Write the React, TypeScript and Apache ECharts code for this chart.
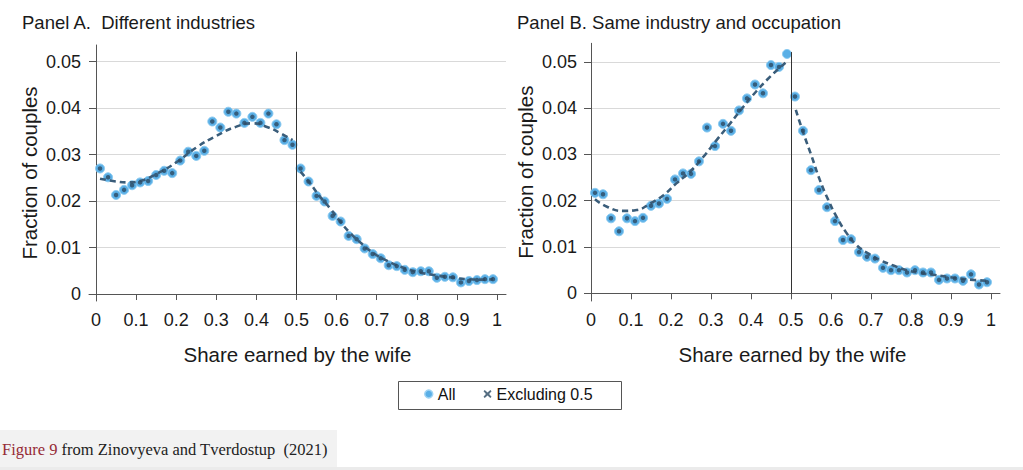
import React, { useEffect, useRef } from "react";
import * as echarts from "echarts";

// Bin centres (share earned by the wife)
const xBins = [
  0.01, 0.03, 0.05, 0.07, 0.09, 0.11, 0.13, 0.15, 0.17, 0.19,
  0.21, 0.23, 0.25, 0.27, 0.29, 0.31, 0.33, 0.35, 0.37, 0.39,
  0.41, 0.43, 0.45, 0.47, 0.49, 0.51, 0.53, 0.55, 0.57, 0.59,
  0.61, 0.63, 0.65, 0.67, 0.69, 0.71, 0.73, 0.75, 0.77, 0.79,
  0.81, 0.83, 0.85, 0.87, 0.89, 0.91, 0.93, 0.95, 0.97, 0.99,
];

const xTicks = [0, 0.1, 0.2, 0.3, 0.4, 0.5, 0.6, 0.7, 0.8, 0.9, 1];
const yTicks = [0, 0.01, 0.02, 0.03, 0.04, 0.05];

// Panel A: different industries
const panelAAll = [
  0.027, 0.0251, 0.0213, 0.0224, 0.0234, 0.024, 0.0243, 0.0256, 0.0265, 0.026,
  0.0287, 0.0306, 0.0297, 0.0308, 0.0371, 0.0358, 0.0392, 0.0388, 0.0368, 0.0381,
  0.0368, 0.0388, 0.0365, 0.0331, 0.0321, 0.027, 0.0242, 0.0211, 0.0199, 0.0168,
  0.0156, 0.0125, 0.0118, 0.0098, 0.0086, 0.0077, 0.0062, 0.006, 0.0052, 0.0047,
  0.0049, 0.0049, 0.0035, 0.0037, 0.0036, 0.0025, 0.0028, 0.003, 0.0032, 0.0032,
];
const panelAExcl = [
  0.027, 0.0251, 0.0213, 0.0224, 0.0234, 0.024, 0.0243, 0.0256, 0.0265, 0.026,
  0.0287, 0.0306, 0.0297, 0.0308, 0.0371, 0.0358, 0.0392, 0.0388, 0.0368, 0.0381,
  0.0368, 0.0388, 0.0365, 0.0331, 0.0321, 0.027, 0.0242, 0.0211, 0.0199, 0.0168,
  0.0156, 0.0125, 0.0118, 0.0098, 0.0086, 0.0077, 0.0062, 0.006, 0.0052, 0.0047,
  0.0049, 0.0049, 0.0035, 0.0037, 0.0036, 0.0025, 0.0028, 0.003, 0.0032, 0.0032,
];

// Panel B: same industry and occupation
const panelBAll = [
  0.0217, 0.0214, 0.0162, 0.0134, 0.0162, 0.0156, 0.0163, 0.0189, 0.0194, 0.0204,
  0.0246, 0.0259, 0.0258, 0.0285, 0.0358, 0.0318, 0.0366, 0.0351, 0.0395, 0.0421,
  0.0451, 0.0432, 0.0493, 0.0489, 0.0517, 0.0425, 0.0351, 0.0266, 0.0223, 0.0186,
  0.0156, 0.0115, 0.0117, 0.0089, 0.0079, 0.0075, 0.0055, 0.005, 0.005, 0.0045,
  0.005, 0.0045, 0.0045, 0.0029, 0.0032, 0.0032, 0.0027, 0.0041, 0.0019, 0.0024,
];
const panelBExcl = [
  0.0217, 0.0214, 0.0162, 0.0134, 0.0162, 0.0156, 0.0163, 0.0189, 0.0194, 0.0204,
  0.0246, 0.0259, 0.0258, 0.0285, 0.0358, 0.0318, 0.0366, 0.0351, 0.0395, 0.0421,
  0.0451, 0.0432, 0.0493, 0.0489, null, 0.0425, 0.0351, 0.0266, 0.0223, 0.0186,
  0.0156, 0.0115, 0.0117, 0.0089, 0.0079, 0.0075, 0.0055, 0.005, 0.005, 0.0045,
  0.005, 0.0045, 0.0045, 0.0029, 0.0032, 0.0032, 0.0027, 0.0041, 0.0019, 0.0024,
];

// Fitted curves
const fitALeft = [
  [0.01, 0.0248], [0.05, 0.0242], [0.08, 0.024], [0.11, 0.0243], [0.15, 0.0258],
  [0.2, 0.0283], [0.25, 0.0315], [0.3, 0.034], [0.35, 0.036], [0.39, 0.0367],
  [0.43, 0.0358], [0.46, 0.0346], [0.49, 0.0331],
];
const fitARight = [
  [0.51, 0.0263], [0.534, 0.0238], [0.559, 0.0209], [0.584, 0.0184], [0.609, 0.0156],
  [0.634, 0.0131], [0.663, 0.0108], [0.692, 0.0088], [0.725, 0.0072], [0.759, 0.0059],
  [0.8, 0.0048], [0.842, 0.0041], [0.883, 0.0036], [0.925, 0.0032], [0.966, 0.0031],
  [0.99, 0.0032],
];
const fitBLeft = [
  [0.01, 0.0203], [0.04, 0.0187], [0.08, 0.0178], [0.114, 0.018], [0.148, 0.0194],
  [0.181, 0.0212], [0.214, 0.0238], [0.248, 0.0263], [0.281, 0.0295], [0.314, 0.0331],
  [0.348, 0.0367], [0.381, 0.0403], [0.414, 0.0437], [0.448, 0.0468], [0.49, 0.0501],
];
const fitBRight = [
  [0.512, 0.0396], [0.531, 0.0346], [0.552, 0.0295], [0.572, 0.0245], [0.593, 0.0202],
  [0.614, 0.0165], [0.639, 0.013], [0.664, 0.0104], [0.693, 0.0086], [0.722, 0.0072],
  [0.756, 0.006], [0.789, 0.005], [0.822, 0.0044], [0.856, 0.004], [0.889, 0.0036],
  [0.922, 0.0032], [0.956, 0.0029], [0.99, 0.0027],
];

const FONT = "'Liberation Sans', Arial, Helvetica, sans-serif";
const SERIF = "'Liberation Serif', 'DejaVu Serif', serif";
const LIGHT = "#5aafe6";
const DARK = "#2c4a63";
const LINE = "#3a5d7a";
const TXT = "#1a1a1a";

function pairs(vals: (number | null)[]) {
  const out: number[][] = [];
  xBins.forEach((x, i) => {
    const v = vals[i];
    if (v !== null && v !== undefined) out.push([x, v]);
  });
  return out;
}

function makeX(idx: number, min: number, max: number) {
  return {
    type: "value",
    gridIndex: idx,
    min,
    max,
    axisLine: { show: true, lineStyle: { color: "#555", width: 1 } },
    axisTick: { show: true, length: 6, customValues: xTicks, lineStyle: { color: "#555" } },
    axisLabel: { customValues: xTicks, fontSize: 18, color: TXT, fontFamily: FONT, margin: 10 },
    splitLine: { show: false },
    name: "Share earned by the wife",
    nameLocation: "middle",
    nameGap: 43,
    nameTextStyle: { fontSize: 20.5, color: TXT, fontFamily: FONT },
  };
}

function makeY(idx: number, min: number, max: number) {
  return {
    type: "value",
    gridIndex: idx,
    min,
    max,
    axisLine: { show: true, lineStyle: { color: "#555", width: 1 } },
    axisTick: { show: true, length: 7, customValues: yTicks, lineStyle: { color: "#555" } },
    axisLabel: { customValues: yTicks, fontSize: 18, color: TXT, fontFamily: FONT, margin: 8 },
    splitLine: { show: true, lineStyle: { color: "#d9d9d9", width: 1 } },
    name: "Fraction of couples",
    nameLocation: "middle",
    nameRotate: 90,
    nameGap: 49,
    nameTextStyle: { fontSize: 20.5, color: TXT, fontFamily: FONT },
  };
}

function scatterAll(idx: number, vals: (number | null)[], vline: boolean) {
  const s: any = {
    name: "All",
    type: "scatter",
    xAxisIndex: idx,
    yAxisIndex: idx,
    data: pairs(vals),
    symbol: "circle",
    symbolSize: 9,
    itemStyle: { color: LIGHT, borderColor: "#8ccbf1", borderWidth: 1, opacity: 1 },
    z: 2,
  };
  if (vline) {
    s.markLine = {
      silent: true,
      symbol: ["none", "none"],
      label: { show: false },
      lineStyle: { color: "#333", width: 1, type: "solid" },
      data: [[{ coord: [0.5, 0] }, { coord: [0.5, 0.0521] }]],
    };
  }
  return s;
}

function scatterExcl(idx: number, vals: (number | null)[]) {
  return {
    name: "Excluding 0.5",
    type: "scatter",
    xAxisIndex: idx,
    yAxisIndex: idx,
    data: pairs(vals),
    symbol: "circle",
    symbolSize: 4.5,
    itemStyle: { color: DARK },
    z: 4,
  };
}

function fitLine(idx: number, name: string, data: number[][]) {
  return {
    name,
    type: "line",
    xAxisIndex: idx,
    yAxisIndex: idx,
    data,
    smooth: true,
    showSymbol: false,
    symbol: "none",
    lineStyle: { color: LINE, width: 2.6, type: [6, 4] },
    z: 3,
  };
}

export default function App() {
  const ref = useRef<HTMLDivElement>(null);
  useEffect(() => {
    document.body.style.margin = "0";
    const chart = echarts.init(ref.current!, null, { renderer: "svg" });
    chart.setOption({
      animation: false,
      backgroundColor: "#ffffff",
      grid: [
        { left: 89, top: 45, width: 417, height: 256 },
        { left: 585, top: 43.3, width: 415, height: 257.7 },
      ],
      xAxis: [makeX(0, -0.0175, 1.0225), makeX(1, -0.015, 1.0225)],
      yAxis: [makeY(0, -0.0015, 0.05355), makeY(1, -0.00166, 0.054)],
      legend: {
        left: 424,
        top: 386,
        padding: 0,
        itemWidth: 8,
        itemHeight: 8,
        itemGap: 28,
        textStyle: { fontSize: 16, color: "#111", fontFamily: FONT },
        data: [
          { name: "All", icon: "circle", itemStyle: { color: LIGHT, borderColor: "#9fd3f3", borderWidth: 1.5 } },
          {
            name: "Excluding 0.5",
            icon: "path://M1.5,0 L5,3 L8.5,0 L10,1.5 L7,5 L10,8.5 L8.5,10 L5,7 L1.5,10 L0,8.5 L3,5 L0,1.5 Z",
            itemStyle: { color: DARK },
          },
        ],
      },
      graphic: [
        {
          type: "text",
          left: 22,
          top: 13,
          style: { text: "Panel A.  Different industries", font: `18.5px ${FONT}`, fill: TXT },
        },
        {
          type: "text",
          left: 517,
          top: 13,
          style: { text: "Panel B. Same industry and occupation", font: `18.5px ${FONT}`, fill: TXT },
        },
        {
          type: "rect",
          shape: { x: 398.5, y: 381.5, width: 223, height: 28 },
          style: { fill: "none", stroke: "#555", lineWidth: 1 },
        },
        {
          type: "rect",
          shape: { x: 0, y: 430, width: 337, height: 37 },
          style: { fill: "#f2f2f2" },
          z: -1,
        },
        {
          type: "rect",
          shape: { x: 0, y: 467, width: 1023, height: 3 },
          style: { fill: "#ebebeb" },
          z: -1,
        },
        {
          type: "text",
          left: 2,
          top: 441,
          style: {
            text: "{r|Figure 9} from Zinovyeva and Tverdostup  (2021)",
            font: `16.5px ${SERIF}`,
            fill: "#222",
            rich: {
              r: { fill: "#962b36", font: `16.5px ${SERIF}` },
            },
          },
        },
      ],
      series: [
        scatterAll(0, panelAAll, true),
        fitLine(0, "fitALeft", fitALeft),
        fitLine(0, "fitARight", fitARight),
        scatterExcl(0, panelAExcl),
        scatterAll(1, panelBAll, true),
        fitLine(1, "fitBLeft", fitBLeft),
        fitLine(1, "fitBRight", fitBRight),
        scatterExcl(1, panelBExcl),
      ],
    });
    return () => chart.dispose();
  }, []);
  return <div ref={ref} style={{ width: 1023, height: 470 }} />;
}
